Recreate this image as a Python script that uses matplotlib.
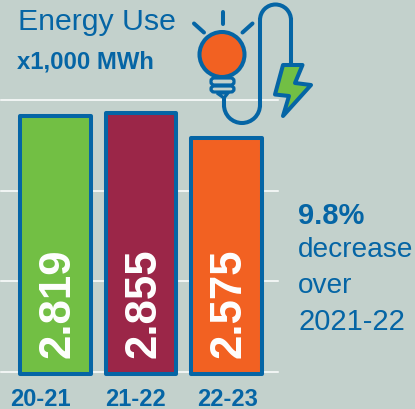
import matplotlib as mpl
mpl.use("Agg")
import matplotlib.pyplot as plt
from matplotlib.patches import Circle, Polygon, Arc, FancyBboxPatch

mpl.rcParams['font.family'] = ['Liberation Sans', 'DejaVu Sans']

years = ["20-21", "21-22", "22-23"]
values = [2.819, 2.855, 2.575]
value_labels = ["2.819", "2.855", "2.575"]
bar_colors = ["#72BF44", "#9B2648", "#F26122"]
grid_levels = [0, 1, 2, 3]

bg = "#C3D1CC"
blue = "#0565A5"
W, H = 415, 409

fig = plt.figure(figsize=[W / 100, H / 100], dpi=100, facecolor=bg)

# bar axes, placed in pixels
left, right, top, bottom = 1, 278, 100, 372
ax = fig.add_axes([left / W, 1 - bottom / H, (right - left) / W, (bottom - top) / H])
ax.set_facecolor("none")
ax.set_xlim((left - 55.5) / 85.5, (right - 55.5) / 85.5)
ax.set_ylim(0, 3)
for s in ax.spines.values():
    s.set_visible(False)
ax.set_yticks([])
ax.set_xticks([])
for g in grid_levels:
    ax.axhline(g, color="white", linewidth=1.1, zorder=1, clip_on=False)

bars = ax.bar(range(3), values, width=0.82, bottom=0, color=bar_colors,
              edgecolor=blue, linewidth=2.9, zorder=2, clip_on=False)
for b in bars:
    b.set_joinstyle("round")
    # bar outline sits slightly under the base line
    b.set_y(-0.025)
    b.set_height(b.get_height() + 0.03)

for i, (v, lab) in enumerate(zip(values, value_labels)):
    ax.text(i + 0.03, 0.155, lab, rotation=90, ha="center", va="bottom", color="white",
            fontsize=31.5, fontweight="bold", zorder=3)

# overlay in pixel coords for the icon and the text
ov = fig.add_axes([0, 0, 1, 1])
ov.set_xlim(0, W)
ov.set_ylim(H, 0)
ov.axis("off")
ov.patch.set_alpha(0)

for x, yr in zip([40, 135, 228], years):
    ov.text(x, 399, yr, ha="center", va="center", color=blue, fontsize=17, fontweight="bold")

ov.text(18, 22, "Energy Use", color=blue, fontsize=21.8, va="center", ha="left")
ov.text(17, 62, "x1,000 MWh", color=blue, fontsize=17.2, fontweight="bold", va="center", ha="left")

ov.text(298, 216, "9.8%", color=blue, fontsize=21, fontweight="bold", va="center", ha="left")
ov.text(298, 250, "decrease", color=blue, fontsize=20.2, va="center", ha="left")
ov.text(298, 286, "over", color=blue, fontsize=20.2, va="center", ha="left")
ov.text(298, 322, "2021-22", color=blue, fontsize=21, va="center", ha="left")

# bulb
lw = 2.9
ov.add_patch(Circle((222, 54.5), 22.5, facecolor="#F26122", edgecolor=blue, linewidth=lw, zorder=5))
for x0, y0, x1, y1 in [(222.7, 12, 222.7, 24), (194, 23.5, 204, 32.5), (252.5, 23.5, 242.5, 32.5)]:
    ov.plot([x0, x1], [y0, y1], color=blue, linewidth=lw, solid_capstyle="round", zorder=5)
ov.add_patch(FancyBboxPatch((212, 79), 21, 5, boxstyle="round,pad=1,rounding_size=3",
                            facecolor=bg, edgecolor=blue, linewidth=lw - 0.6, zorder=5))
ov.add_patch(FancyBboxPatch((212, 87), 21, 4, boxstyle="round,pad=1,rounding_size=3",
                            facecolor=bg, edgecolor=blue, linewidth=lw - 0.6, zorder=5))
ov.add_patch(Polygon([(217, 93), (228, 93), (224, 98)], closed=True, facecolor=bg,
                     edgecolor=blue, linewidth=lw - 0.6, zorder=5))

# cord
ov.plot([224, 224], [97, 105], color=blue, linewidth=lw, zorder=4)
ov.add_patch(Arc((242, 105), 36, 36, theta1=0, theta2=180, color=blue, linewidth=lw, zorder=4))
ov.plot([260, 260], [105, 20], color=blue, linewidth=lw, zorder=4)
ov.add_patch(Arc((275.5, 20), 31, 31, theta1=180, theta2=360, color=blue, linewidth=lw, zorder=4))
ov.plot([291, 291], [20, 64], color=blue, linewidth=lw, zorder=4)

# bolt
bolt = [(283, 65), (302.5, 65), (295, 83), (311, 85), (283, 116), (289, 96), (275, 94.5)]
ov.add_patch(Polygon(bolt, closed=True, facecolor="#72BF44", edgecolor=blue,
                     linewidth=lw, joinstyle="round", zorder=5))

plt.savefig("out.png", dpi=100, facecolor=bg)
plt.close("all")
